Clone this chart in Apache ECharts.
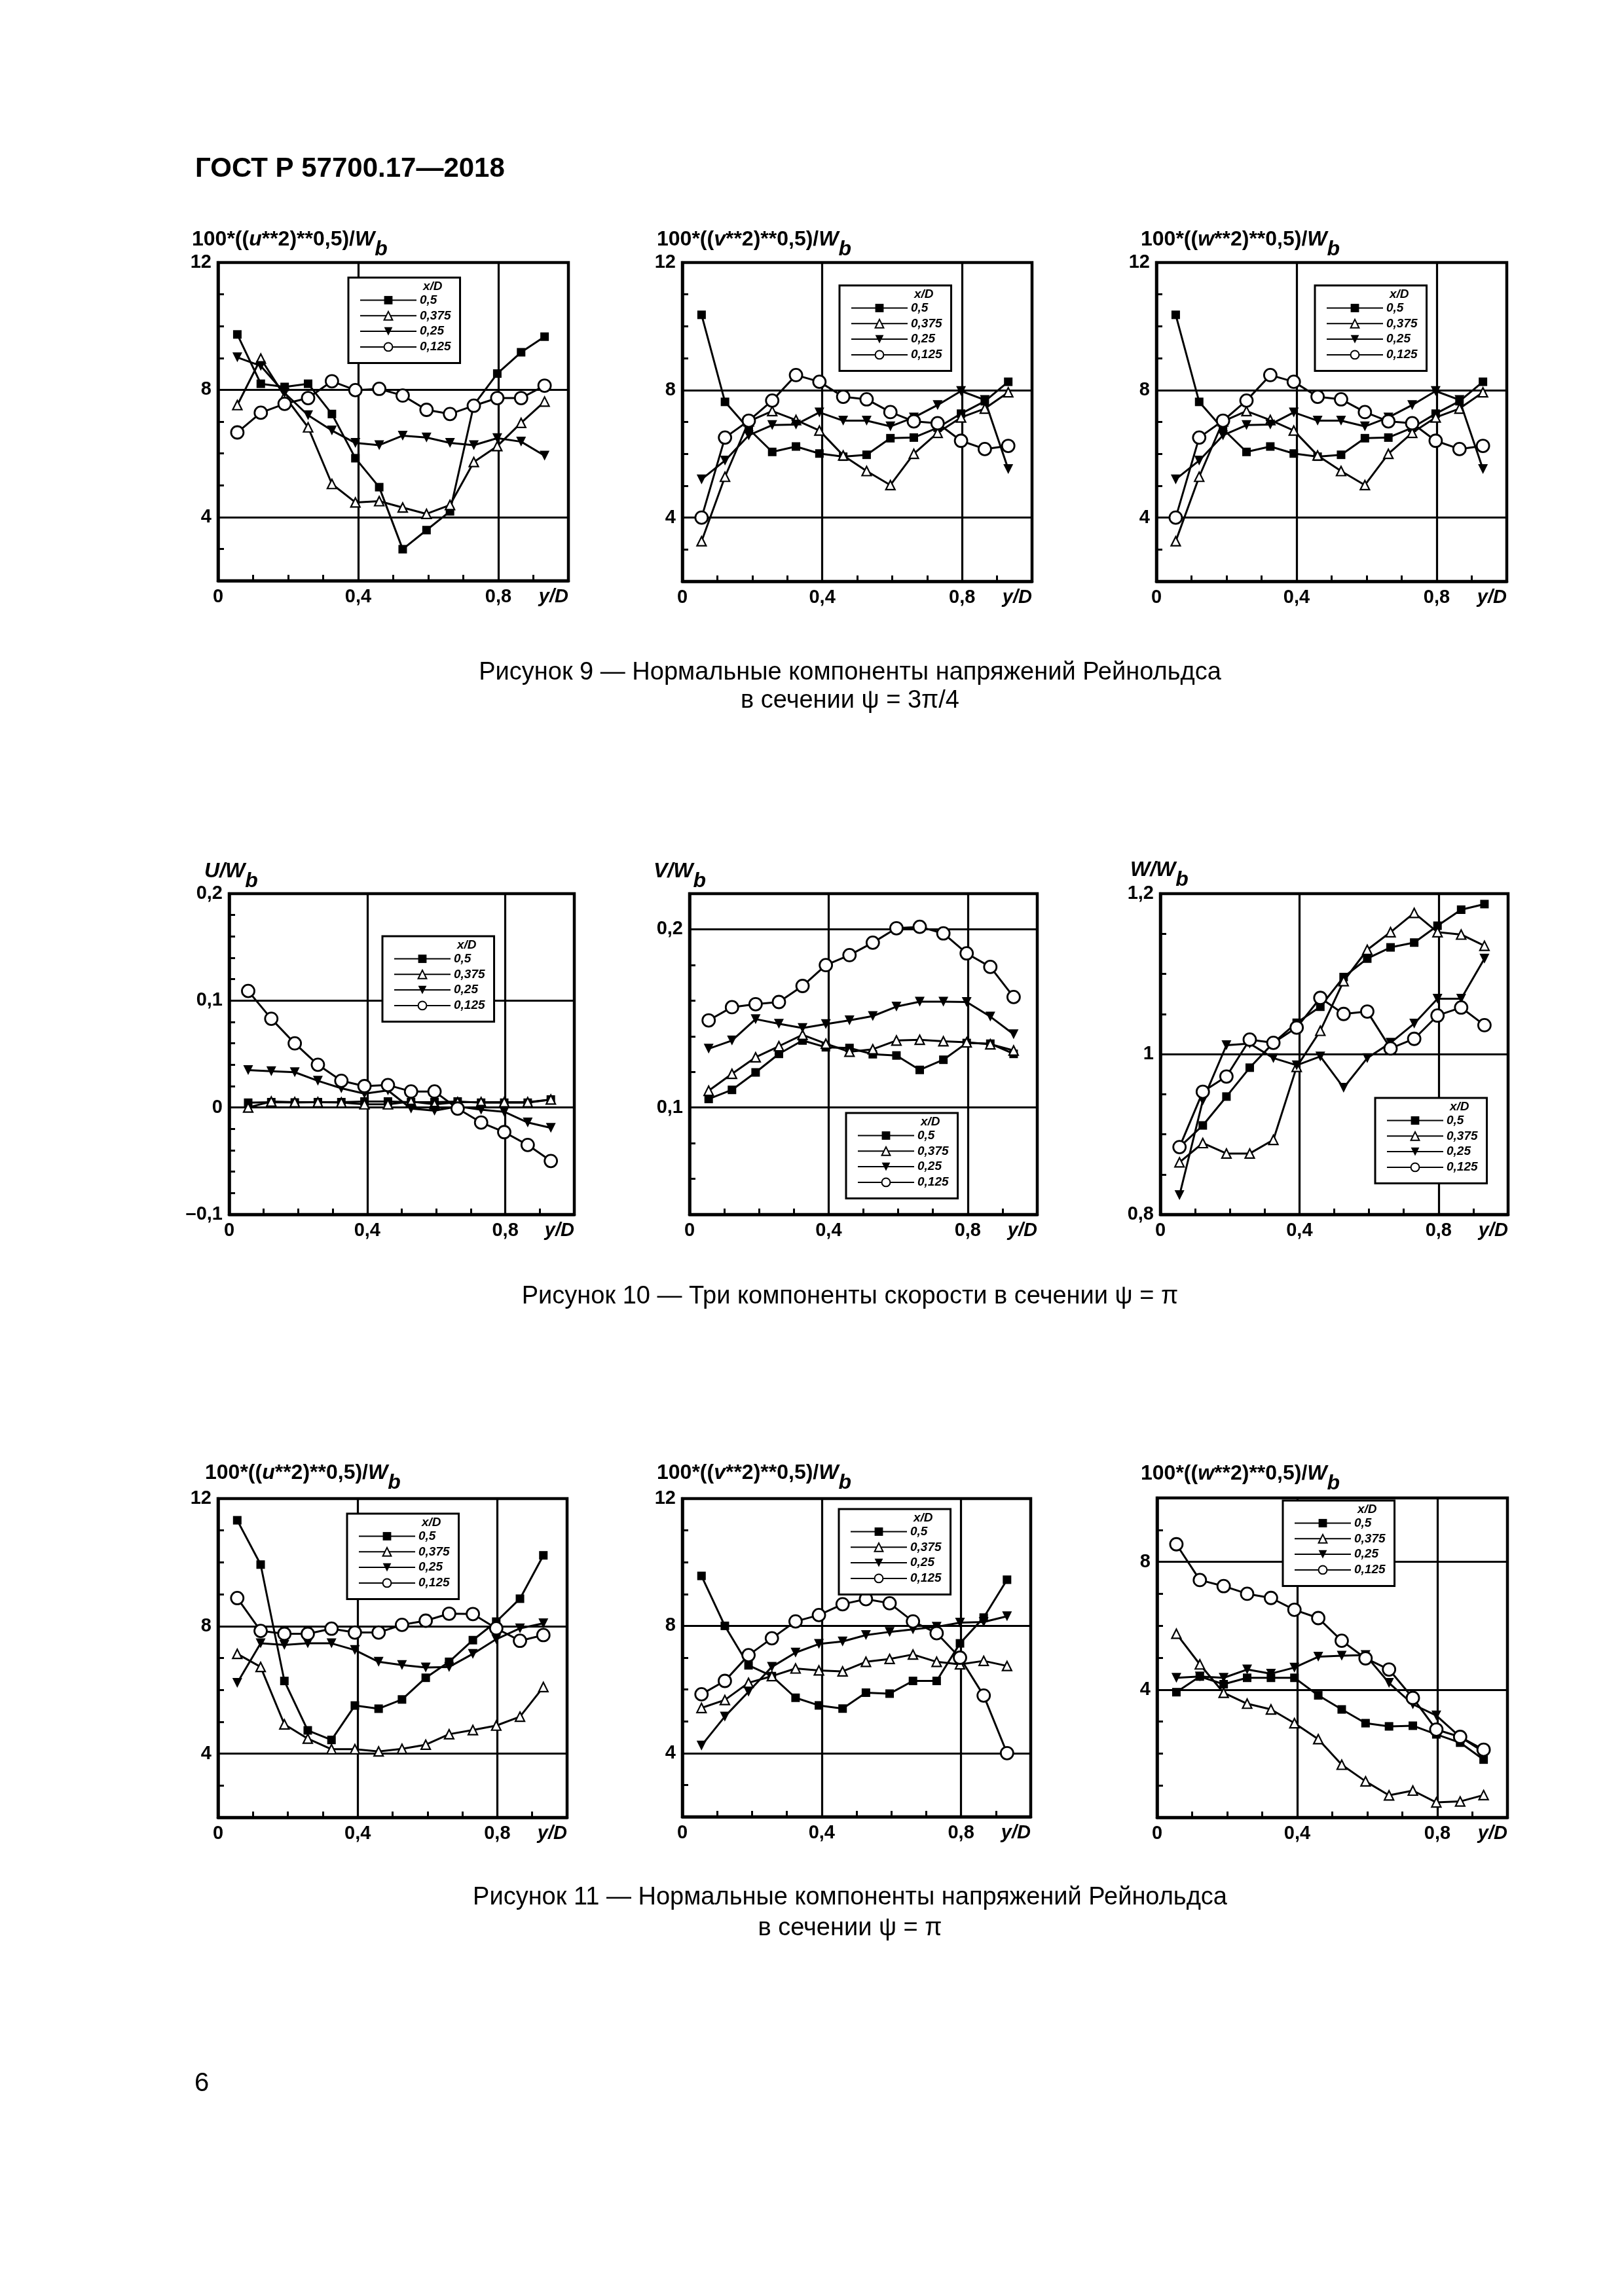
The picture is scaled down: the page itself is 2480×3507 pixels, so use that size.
<!DOCTYPE html>
<html><head><meta charset="utf-8">
<script src="https://cdn.jsdelivr.net/npm/echarts@6/dist/echarts.min.js"></script>
<style>html,body{margin:0;padding:0;background:#fff}#c{width:2480px;height:3507px}</style>
</head><body><div id="c"></div>
<script>
const FONT = '"Liberation Sans", Arial, Helvetica, sans-serif';

// ---- data ----
const yD = [0.055, 0.122, 0.19, 0.257, 0.325, 0.392, 0.46, 0.527, 0.595, 0.662, 0.73, 0.797, 0.865, 0.932];
const seriesNames = ['0,5', '0,375', '0,25', '0,125'];

// Figure 9 (psi = 3pi/4)
const f9u_05   = [9.74, 8.19, 8.09, 8.19, 7.24, 5.85, 4.94, 2.99, 3.59, 4.18, 7.52, 8.51, 9.18, 9.67];
const f9u_0375 = [7.52, 8.98, 7.8, 6.82, 5.04, 4.46, 4.5, 4.30, 4.10, 4.38, 5.73, 6.23, 6.96, 7.63];
const f9u_025  = [9.02, 8.75, 7.9, 7.2, 6.72, 6.33, 6.26, 6.56, 6.5, 6.33, 6.26, 6.48, 6.37, 5.93];
const f9u_0125 = [6.66, 7.28, 7.56, 7.74, 8.27, 7.99, 8.03, 7.82, 7.37, 7.24, 7.5, 7.74, 7.74, 8.13];

const f9v_05   = [10.36, 7.63, 6.78, 6.06, 6.23, 6.01, 5.91, 5.97, 6.49, 6.51, 6.82, 7.26, 7.65, 8.26];
const f9v_0375 = [3.26, 5.28, 7.02, 7.34, 7.06, 6.73, 5.95, 5.46, 5.02, 6.0, 6.66, 7.14, 7.42, 7.93];
const f9v_025  = [5.2, 5.79, 6.58, 6.9, 6.92, 7.3, 7.04, 7.04, 6.86, 7.14, 7.53, 7.97, 7.69, 5.52];
const f9v_0125 = [4.0, 6.51, 7.04, 7.67, 8.47, 8.26, 7.79, 7.71, 7.31, 7.02, 6.96, 6.41, 6.15, 6.25];

const f9w_05   = [10.36, 7.63, 6.78, 6.06, 6.23, 6.01, 5.91, 5.97, 6.49, 6.51, 6.82, 7.26, 7.65, 8.26];
const f9w_0375 = [3.26, 5.28, 7.02, 7.34, 7.06, 6.73, 5.95, 5.46, 5.02, 6.0, 6.66, 7.14, 7.42, 7.93];
const f9w_025  = [5.2, 5.79, 6.58, 6.9, 6.92, 7.3, 7.04, 7.04, 6.86, 7.14, 7.53, 7.97, 7.69, 5.52];
const f9w_0125 = [4.0, 6.51, 7.04, 7.67, 8.47, 8.26, 7.79, 7.71, 7.31, 7.02, 6.96, 6.41, 6.15, 6.25];

// Figure 10 (psi = pi)
const f10U_05   = [0.0045, 0.005, 0.0047, 0.005, 0.005, 0.0056, 0.0056, 0.005, 0.005, 0.0056, 0.0045, 0.0045, 0.0045, 0.0075];
const f10U_0375 = [0.0, 0.0056, 0.005, 0.005, 0.0047, 0.003, 0.003, 0.0056, 0.003, 0.005, 0.005, 0.005, 0.005, 0.0075];
const f10U_025  = [0.035, 0.034, 0.033, 0.025, 0.018, 0.013, 0.016, -0.001, -0.003, 0.001, -0.002, -0.004, -0.014, -0.019];
const f10U_0125 = [0.109, 0.083, 0.060, 0.040, 0.025, 0.020, 0.021, 0.015, 0.015, -0.001, -0.014, -0.023, -0.035, -0.050];

const f10V_05   = [0.1048, 0.1099, 0.1197, 0.1301, 0.1376, 0.1338, 0.1334, 0.1299, 0.1292, 0.1211, 0.1268, 0.1362, 0.1358, 0.1301];
const f10V_0375 = [0.1094, 0.1189, 0.1282, 0.1344, 0.1408, 0.1358, 0.1313, 0.1327, 0.1376, 0.138, 0.1372, 0.1366, 0.1355, 0.132];
const f10V_025  = [0.133, 0.1376, 0.1496, 0.147, 0.1446, 0.1468, 0.1489, 0.1513, 0.1566, 0.1594, 0.1594, 0.1592, 0.151, 0.1411];
const f10V_0125 = [0.1489, 0.1563, 0.158, 0.1592, 0.1682, 0.1799, 0.1855, 0.1925, 0.2006, 0.2014, 0.1977, 0.1865, 0.1789, 0.162];

const f10W_05   = [0.884, 0.911, 0.947, 0.983, 1.014, 1.039, 1.059, 1.096, 1.119, 1.133, 1.139, 1.16, 1.18, 1.187];
const f10W_0375 = [0.865, 0.889, 0.876, 0.876, 0.893, 0.984, 1.029, 1.091, 1.13, 1.152, 1.176, 1.152, 1.149, 1.135];
const f10W_025  = [0.824, 0.942, 1.011, 1.013, 0.995, 0.986, 0.997, 0.958, 0.995, 1.014, 1.038, 1.069, 1.069, 1.119];
const f10W_0125 = [0.884, 0.953, 0.972, 1.018, 1.014, 1.033, 1.07, 1.05, 1.053, 1.007, 1.019, 1.048, 1.058, 1.036];

// Figure 11 (psi = pi)
const f11u_05   = [11.32, 9.93, 6.28, 4.73, 4.43, 5.51, 5.41, 5.7, 6.38, 6.88, 7.56, 8.14, 8.86, 10.22];
const f11u_0375 = [7.13, 6.72, 4.92, 4.47, 4.14, 4.14, 4.07, 4.15, 4.28, 4.61, 4.74, 4.88, 5.16, 6.09];
const f11u_025  = [6.22, 7.46, 7.41, 7.46, 7.46, 7.25, 6.88, 6.78, 6.7, 6.72, 7.13, 7.59, 7.93, 8.09];
const f11u_0125 = [8.88, 7.85, 7.76, 7.76, 7.92, 7.8, 7.8, 8.04, 8.17, 8.39, 8.38, 7.93, 7.54, 7.72];

const f11v_05   = [9.57, 8.0, 6.76, 6.42, 5.74, 5.5, 5.4, 5.9, 5.87, 6.27, 6.27, 7.45, 8.26, 9.45];
const f11v_0375 = [5.42, 5.67, 6.21, 6.42, 6.66, 6.6, 6.57, 6.87, 6.96, 7.1, 6.87, 6.79, 6.9, 6.74];
const f11v_025  = [4.24, 5.15, 5.93, 6.71, 7.16, 7.43, 7.51, 7.71, 7.81, 7.89, 7.97, 8.1, 8.12, 8.3];
const f11v_0125 = [5.85, 6.27, 7.08, 7.61, 8.14, 8.34, 8.68, 8.84, 8.71, 8.14, 7.77, 7.0, 5.81, 4.0];

const f11w_05   = [3.92, 4.41, 4.17, 4.37, 4.37, 4.37, 3.82, 3.38, 2.95, 2.85, 2.87, 2.6, 2.34, 1.81];
const f11w_0375 = [5.75, 4.79, 3.9, 3.56, 3.38, 2.95, 2.45, 1.65, 1.13, 0.69, 0.84, 0.47, 0.5, 0.7];
const f11w_025  = [4.37, 4.41, 4.37, 4.63, 4.5, 4.69, 5.03, 5.06, 5.08, 4.21, 3.54, 3.19, 2.52, 2.05];
const f11w_0125 = [8.55, 7.43, 7.24, 7.0, 6.87, 6.5, 6.24, 5.53, 4.98, 4.63, 3.74, 2.75, 2.52, 2.12];

// ---- panel layout ----
const T_U = '{n|100*((}{i|u}{n|**2)**0,5)/}{i|W}{s|b}';
const T_V = '{n|100*((}{i|v}{n|**2)**0,5)/}{i|W}{s|b}';
const T_W = '{n|100*((}{i|w}{n|**2)**0,5)/}{i|W}{s|b}';
const panels = [
  {rect:[333,401,535,486], y:[2,12,1], yMajor:[4,8,12], yGrid:[4,8], title:T_U, tp:[293,350], lg:[532,424], d:[f9u_05,f9u_0375,f9u_025,f9u_0125]},
  {rect:[1042,401,534,487], y:[2,12,1], yMajor:[4,8,12], yGrid:[4,8], title:T_V, tp:[1003,350], lg:[1282,436], d:[f9v_05,f9v_0375,f9v_025,f9v_0125]},
  {rect:[1766,401,535,487], y:[2,12,1], yMajor:[4,8,12], yGrid:[4,8], title:T_W, tp:[1742,350], lg:[2008,436], d:[f9w_05,f9w_0375,f9w_025,f9w_0125]},
  {rect:[350,1365,527,490], y:[-0.1,0.2,0.02], yMajor:[-0.1,0,0.1,0.2], yGrid:[0,0.1], title:'{i|U/W}{s|b}', tp:[312,1315], lg:[584,1430], d:[f10U_05,f10U_0375,f10U_025,f10U_0125]},
  {rect:[1053,1365,531,490], y:[0.04,0.22,0.02], yMajor:[0.1,0.2], yGrid:[0.1,0.2], title:'{i|V/W}{s|b}', tp:[998,1315], lg:[1292,1700], d:[f10V_05,f10V_0375,f10V_025,f10V_0125]},
  {rect:[1772,1365,531,490], y:[0.8,1.2,0.05], yMajor:[0.8,1,1.2], yGrid:[1], title:'{i|W/W}{s|b}', tp:[1726,1313], lg:[2100,1677], d:[f10W_05,f10W_0375,f10W_025,f10W_0125]},
  {rect:[333,2289,533,487], y:[2,12,1], yMajor:[4,8,12], yGrid:[4,8], title:T_U, tp:[313,2234], lg:[530,2312], d:[f11u_05,f11u_0375,f11u_025,f11u_0125]},
  {rect:[1042,2289,532,486], y:[2,12,1], yMajor:[4,8,12], yGrid:[4,8], title:T_V, tp:[1003,2234], lg:[1281,2305], d:[f11v_05,f11v_0375,f11v_025,f11v_0125]},
  {rect:[1767,2288,535,488], y:[0,10,1], yMajor:[4,8], yGrid:[4,8], title:T_W, tp:[1742,2235], lg:[1959,2292], d:[f11w_05,f11w_0375,f11w_025,f11w_0125]}
];

const marks = [
  {symbol:'rect', size:13, fill:'#000', bw:0},
  {symbol:'triangle', size:14, fill:'#fff', bw:2.2},
  {symbol:'path://M0,0L10,0L5,9Z', size:15, fill:'#000', bw:0},
  {symbol:'circle', size:19, fill:'#fff', bw:2.8}
];

const fmt = m => (m < 0 ? '\u2013' : '') + String(Math.abs(m)).replace('.', ',');
const labeler = majors => v => {
  for (const m of majors) if (Math.abs(v - m) < 1e-6) return fmt(m);
  return '';
};

const grids = [], xAxes = [], yAxes = [], series = [], legends = [], graphics = [];
const TF = 32;
const richBase = {fontFamily: FONT, fontSize: TF, fontWeight: 'bold', fill: '#000', color: '#000', lineHeight: TF, verticalAlign: 'top'};
const labelStyle = {color: '#000', fontFamily: FONT, fontSize: 29, fontWeight: 'bold', margin: 10};
panels.forEach((p, i) => {
  grids.push({left: p.rect[0], top: p.rect[1], width: p.rect[2], height: p.rect[3], show: true,
    borderColor: '#000', borderWidth: 4.5, backgroundColor: 'transparent', containLabel: false, outerBoundsMode: 'none'});
  xAxes.push({type: 'value', gridIndex: i, min: 0, max: 1, interval: 0.1,
    axisLine: {show: true, onZero: false, lineStyle: {color: '#000', width: 4.5}},
    axisTick: {show: true, inside: true, length: 9, lineStyle: {color: '#000', width: 3}},
    axisLabel: Object.assign({formatter: labeler([0, 0.4, 0.8])}, labelStyle),
    splitLine: {show: false},
    name: 'y/D', nameLocation: 'end', nameGap: 0,
    nameTextStyle: {fontFamily: FONT, fontSize: 29, fontWeight: 'bold', fontStyle: 'italic', color: '#000', align: 'right', verticalAlign: 'top', padding: [10, 0, 0, 0]}
  });
  yAxes.push({type: 'value', gridIndex: i, min: p.y[0], max: p.y[1], interval: p.y[2],
    axisLine: {show: true, onZero: false, lineStyle: {color: '#000', width: 4.5}},
    axisTick: {show: true, inside: true, length: 9, lineStyle: {color: '#000', width: 3}},
    axisLabel: Object.assign({formatter: labeler(p.yMajor)}, labelStyle),
    splitLine: {show: false}
  });
  p.d.forEach((arr, j) => {
    const mk = marks[j];
    const s = {
      type: 'line', name: seriesNames[j], xAxisIndex: i, yAxisIndex: i,
      data: yD.map((x, k) => [x, arr[k]]),
      symbol: mk.symbol, symbolSize: mk.size, showAllSymbol: true,
      itemStyle: {color: mk.fill, borderColor: '#000', borderWidth: mk.bw},
      lineStyle: {color: '#000', width: 3},
      z: 3 + j, animation: false, emphasis: {disabled: true}
    };
    if (j === 0) {
      s.markLine = {silent: true, symbol: ['none', 'none'], z: 1, animation: false,
        label: {show: false}, lineStyle: {color: '#000', width: 3.2, type: 'solid'},
        emphasis: {disabled: true},
        data: [{xAxis: 0.4}, {xAxis: 0.8}].concat(p.yGrid.map(v => ({yAxis: v})))};
    }
    series.push(s);
  });
  legends.push({orient: 'vertical', left: p.lg[0], top: p.lg[1], data: seriesNames, selectedMode: false,
    padding: [25, 14, 15, 17], itemWidth: 86, itemHeight: 16, itemGap: 4.8,
    borderColor: '#000', borderWidth: 3, backgroundColor: '#fff', z: 20,
    textStyle: {fontFamily: FONT, fontSize: 19, fontWeight: 'bold', fontStyle: 'italic', color: '#000', lineHeight: 16}});
  graphics.push({type: 'text', x: p.lg[0] + 114, y: p.lg[1] + 4, z: 30,
    style: {text: 'x/D', fontFamily: FONT, fontSize: 19, fontWeight: 'bold', fontStyle: 'italic', fill: '#000', verticalAlign: 'top'}});
  graphics.push({type: 'text', x: p.tp[0], y: p.tp[1], z: 30,
    style: {text: p.title, fill: '#000', rich: {
      n: Object.assign({}, richBase),
      i: Object.assign({}, richBase, {fontStyle: 'italic'}),
      s: Object.assign({}, richBase, {fontStyle: 'italic', padding: [15, 0, 0, 0]})
    }}});
});

const capStyle = {fontFamily: FONT, fontSize: 38, fill: '#000', align: 'center', verticalAlign: 'middle'};
const texts = [
  {x: 298, y: 258, text: '\u0413\u041E\u0421\u0422 \u0420 57700.17\u20142018', font: {fontSize: 42, fontWeight: 'bold', align: 'left'}},
  {x: 1298, y: 1028, text: 'Рисунок 9 — Нормальные компоненты напряжений Рейнольдса'},
  {x: 1298, y: 1071, text: 'в сечении ψ = 3π/4'},
  {x: 1298, y: 1981, text: 'Рисунок 10 — Три компоненты скорости в сечении ψ = π'},
  {x: 1298, y: 2899, text: 'Рисунок 11 — Нормальные компоненты напряжений Рейнольдса'},
  {x: 1298, y: 2946, text: 'в сечении ψ = π'},
  {x: 297, y: 3183, text: '6', font: {fontSize: 40, align: 'left'}}
];
texts.forEach(t => graphics.push({type: 'text', x: t.x, y: t.y, z: 30,
  style: Object.assign({}, capStyle, t.font || {}, {text: t.text})}));

const chart = echarts.init(document.getElementById('c'), null, {renderer: 'canvas', width: 2480, height: 3507});
chart.setOption({
  animation: false, backgroundColor: '#fff',
  grid: grids, xAxis: xAxes, yAxis: yAxes, series: series, legend: legends, graphic: graphics
});
</script></body></html>
